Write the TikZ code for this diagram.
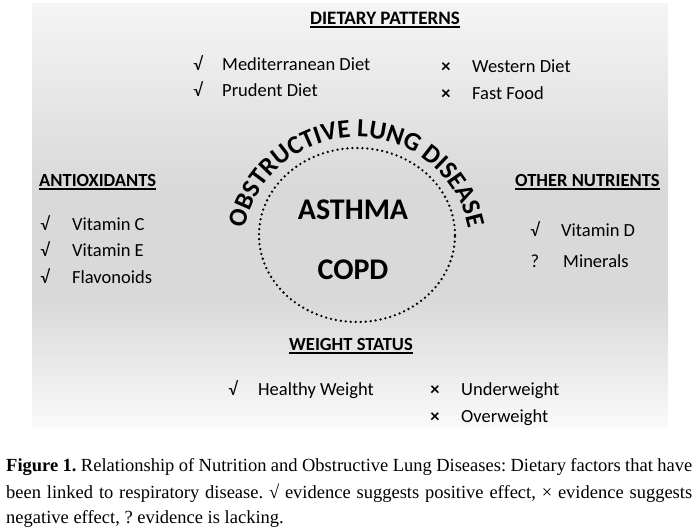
\documentclass[tikz,border=0pt]{standalone}
\usepackage{fontspec}
\setmainfont{Carlito}
\newfontfamily\capfont{Liberation Serif}
\usetikzlibrary{decorations.text}

\newcommand{\arcfont}{\fontsize{26}{26}\selectfont\bfseries}

\begin{document}
\frenchspacing
\begin{tikzpicture}[x=1pt,y=1pt,
	head/.style={font=\fontsize{18.5}{20}\selectfont\bfseries, inner sep=0pt},
	item/.style={font=\fontsize{18.5}{20}\selectfont, inner sep=0pt, anchor=base west},
	sign/.style={font=\fontsize{18.5}{20}\selectfont, inner sep=0pt, anchor=base},
	rule/.style={line width=1.3pt},
	disease/.style={font=\fontsize{30}{30}\selectfont\bfseries, inner sep=0pt},
	capline/.style={font=\capfont\fontsize{18.5}{20}\selectfont, inner sep=0pt, anchor=base west}]
	\useasboundingbox (0,0) rectangle (700,-528);
	% panel
	\shade[top color=black!4, bottom color=black!15] (32,-3) rectangle (668,-190);
	\fill[black!15] (32,-190) rectangle (668,-300);
	\shade[top color=black!15, bottom color=black!2] (32,-300) rectangle (668,-428);

	% middle
	\coordinate (core) at (357,-235);
	\draw[line width=2.6pt, line cap=round, dash pattern=on 0pt off 5pt] (core) ellipse[x radius=98, y radius=87];
	\node[disease] (asthma) at (353,-210) {ASTHMA};
	\node[disease] (copd) at (353,-270) {COPD};
	\path[decorate, decoration={text along path, text align=center,
		text={|\arcfont|OBSTRUCTIVE LUNG DISEASE}}]
		(357,-251) ++(170:114) arc[start angle=170, end angle=10, radius=114];

	% dietary patterns
	\node[head, anchor=base, font=\fontsize{19}{20}\selectfont\bfseries] (diet) at (385,-24) {DIETARY PATTERNS};
	\draw[rule] ([yshift=-3pt]diet.base west) -- ([yshift=-3pt]diet.base east);
	\node[sign] (s1) at (198,-70) {√};
	\node[item] (med) at (222,-70) {Mediterranean Diet};
	\node[sign] (s2) at (198,-96) {√};
	\node[item] (prud) at (222,-96) {Prudent Diet};
	\node[sign] (s3) at (446,-72) {\bfseries ×};
	\node[item] (west) at (472,-72) {Western Diet};
	\node[sign] (s4) at (446,-99) {\bfseries ×};
	\node[item] (fast) at (472,-99) {Fast Food};

	% antioxidants
	\node[head, anchor=base west] (anti) at (39,-186) {ANTIOXIDANTS};
	\draw[rule] ([yshift=-3pt]anti.base west) -- ([yshift=-3pt]anti.base east);
	\node[sign] (s5) at (45,-230) {√};
	\node[item] (vitc) at (72,-230) {Vitamin C};
	\node[sign] (s6) at (45,-256) {√};
	\node[item] (vite) at (72,-256) {Vitamin E};
	\node[sign] (s7) at (45,-283) {√};
	\node[item] (flav) at (72,-283) {Flavonoids};

	% other nutrients
	\node[head, anchor=base west] (other) at (515,-186) {OTHER NUTRIENTS};
	\draw[rule] ([yshift=-3pt]other.base west) -- ([yshift=-3pt]other.base east);
	\node[sign] (s8) at (535,-236) {√};
	\node[item] (vitd) at (561,-236) {Vitamin D};
	\node[sign] (s9) at (535,-267) {?};
	\node[item] (mine) at (563,-267) {Minerals};

	% weight status
	\node[head, anchor=base] (weight) at (351,-350) {WEIGHT STATUS};
	\draw[rule] ([yshift=-3pt]weight.base west) -- ([yshift=-3pt]weight.base east);
	\node[sign] (s10) at (233,-395) {√};
	\node[item] (healthy) at (258,-395) {Healthy Weight};
	\node[sign] (s11) at (435,-395) {\bfseries ×};
	\node[item] (under) at (461,-395) {Underweight};
	\node[sign] (s12) at (435,-422) {\bfseries ×};
	\node[item] (over) at (461,-422) {Overweight};

	% caption
	\node[capline] (cap1) at (6,-471) {\makebox[686pt][s]{\textbf{Figure 1.} Relationship of Nutrition and Obstructive Lung Diseases: Dietary factors that have}};
	\node[capline] (cap2) at (6,-498) {\makebox[686pt][s]{been linked to respiratory disease. √ evidence suggests positive effect, × evidence suggests}};
	\node[capline] (cap3) at (6,-523) {negative effect, ? evidence is lacking.};
\end{tikzpicture}
\end{document}
